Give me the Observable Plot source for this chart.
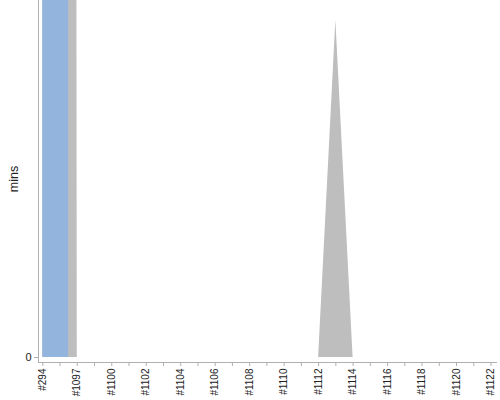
<!DOCTYPE html>
<html>
<head>
<meta charset="utf-8">
<script src="https://cdn.jsdelivr.net/npm/d3@7"></script>
<script src="https://cdn.jsdelivr.net/npm/@observablehq/plot@0.6"></script>
<style>
  html, body { margin: 0; padding: 0; background: #fff; }
</style>
</head>
<body>
<div id="chart"></div>
<script>
const categories = ["#294", "#1096", "#1097", "#1099", "#1100", "#1101", "#1102", "#1103", "#1104",
  "#1105", "#1106", "#1107", "#1108", "#1109", "#1110", "#1111", "#1112", "#1113", "#1114",
  "#1115", "#1116", "#1117", "#1118", "#1119", "#1120", "#1121", "#1122"];
// minutes per build, blue series (off the top of the axis for the first builds)
const blueMins = [5000, 5000, 0, 0, 0, 0, 0, 0, 0, 0, 0, 0, 0, 0, 0, 0, 0, 0, 0, 0, 0, 0, 0, 0, 0, 0, 0];
// minutes per build, grey series
const greyMins = [5000, 5000, 0, 0, 0, 0, 0, 0, 0, 0, 0, 0, 0, 0, 0, 0, 0, 94.5, 0, 0, 0, 0, 0, 0, 0, 0, 0];
const yTicks = [0];
const yMax = 100;

const data = categories.map((c, i) => ({cat: c, blue: blueMins[i], grey: greyMins[i]}));

const chart = Plot.plot({
  width: 500,
  height: 400,
  marginTop: 0,
  marginLeft: 38,
  marginRight: 4,
  marginBottom: 38,
  x: {type: "point", domain: categories, padding: 0, round: false, insetLeft: 4.3, insetRight: 5.5},
  y: {domain: [0, yMax], insetBottom: 5},
  style: {fontFamily: "'Liberation Sans', Arial, sans-serif", background: "white", color: "#222"},
  marks: [
    Plot.areaY(data, {x: "cat", y: "grey", fill: "#bebebe", clip: true}),
    Plot.areaY(data, {x: "cat", y: "blue", fill: "#93b4dd", curve: "step", clip: true}),
    Plot.frame({anchor: "left", stroke: "#b0b0b0"}),
    Plot.frame({anchor: "bottom", stroke: "#b0b0b0"}),
    Plot.axisX({
      ticks: categories,
      tickFormat: d => categories.indexOf(d) % 2 === 0 ? d : "",
      tickRotate: -90,
      tickSize: 4,
      tickPadding: 2,
      fontSize: 10,
      stroke: "#b0b0b0",
      label: null
    }),
    Plot.axisY({ticks: yTicks, tickSize: 4, tickPadding: 3, fontSize: 11, stroke: "#b0b0b0", label: null}),
    Plot.text(["mins"], {frameAnchor: "left", textAnchor: "middle", dx: -25, dy: -2.5, rotate: -90, fontSize: 12.5, fill: "#222"})
  ]
});
document.getElementById("chart").appendChild(chart);
</script>
</body>
</html>
